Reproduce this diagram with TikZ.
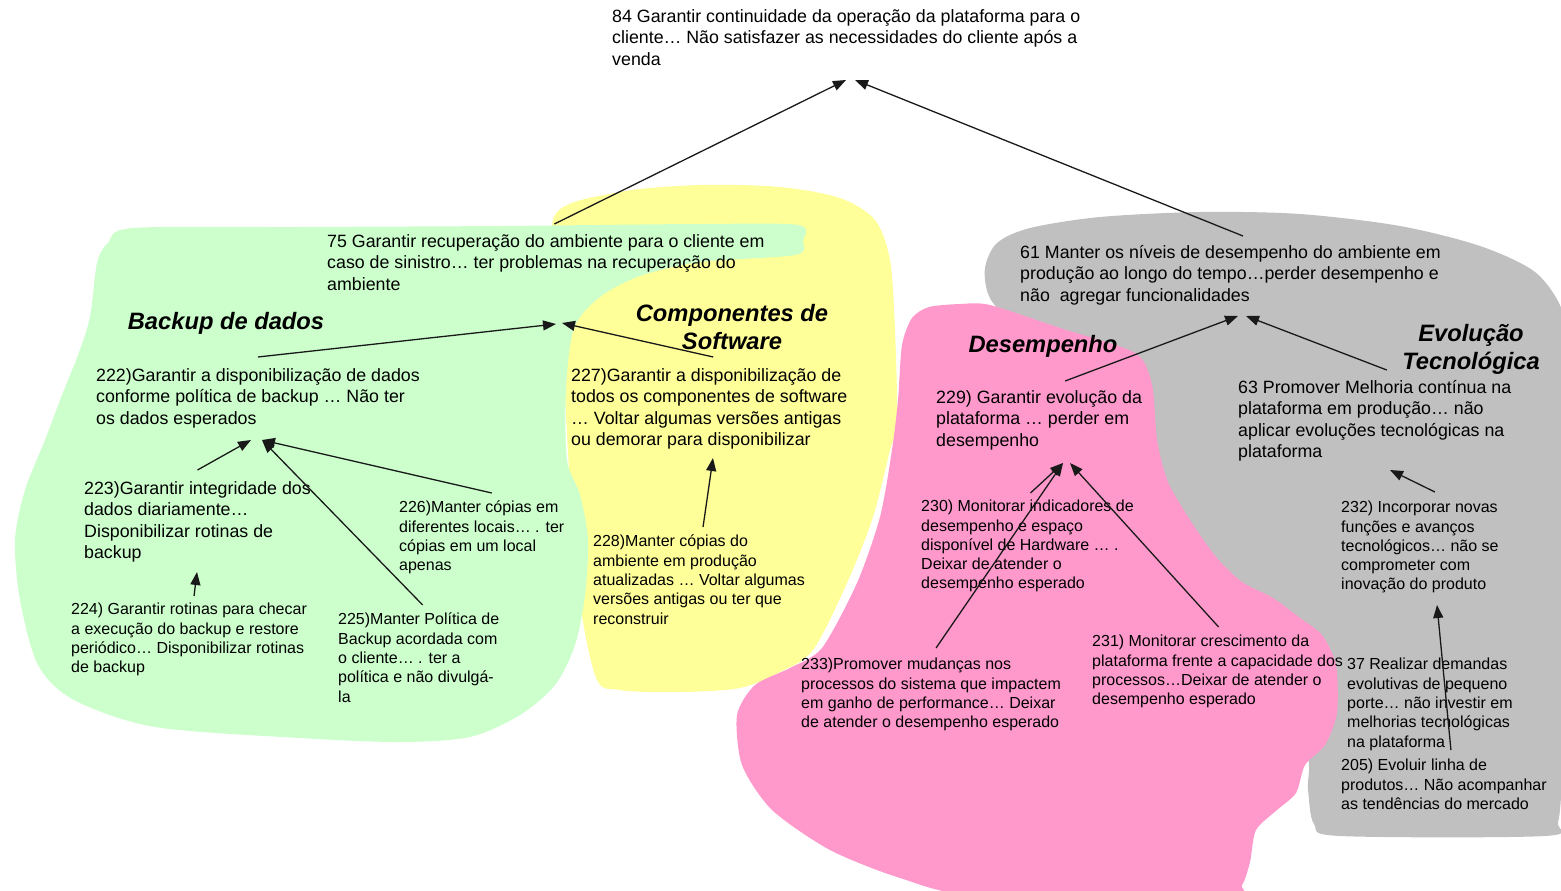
\documentclass[tikz,border=0pt]{standalone}
\usepackage{fontspec}
\setmainfont{Liberation Sans}
\usetikzlibrary{arrows.meta}
\pgfdeclarelayer{bg}
\pgfsetlayers{bg,main}
\definecolor{backupgreen}{RGB}{204,255,204}
\definecolor{softyellow}{RGB}{255,255,153}
\definecolor{perfpink}{RGB}{255,153,204}
\definecolor{evolgray}{RGB}{192,192,192}
\tikzset{
    goal/.style={inner sep=0mm, anchor=north west, align=left, font=\fontsize{17.8}{21.5}\selectfont},
    subgoal/.style={goal, font=\fontsize{16}{19.3}\selectfont},
    area/.style={inner sep=0mm, align=center, font=\fontsize{23.7}{28}\selectfont\bfseries\itshape}
}
\tikzset{dep/.style={line width=1.3pt, draw=black!90, -{Triangle[length=13pt, width=10pt]}}}

\begin{document}
\begin{tikzpicture}[x=1pt, y=-1pt]
        \useasboundingbox (0,0) rectangle (1561,891);
        \begin{pgfonlayer}{bg}
                \fill[softyellow] plot[smooth cycle, tension=0.5] coordinates {(555,215) (620,192) (700,185) (780,187) (840,198) (875,220) (890,260) (895,330) (897,423) (890,450) (873,517) (847,583) (813,650) (780,672) (740,688) (680,692) (620,690) (595,675) (575,560) (560,300)};
                \fill[backupgreen] plot[smooth cycle, tension=0.5] coordinates {(133,228) (300,227) (500,226) (700,224) (798,225) (803,241) (795,255) (700,262) (640,276) (600,297) (574,328) (566,390) (567,460) (580,495) (588,540) (585,595) (575,645) (555,685) (520,715) (470,737) (400,742) (300,738) (155,727) (74,700) (38,665) (20,600) (15,540) (25,490) (45,440) (62,395) (78,355) (90,317) (97,263) (108,243)};
                \fill[evolgray] plot[smooth cycle, tension=0.5] coordinates {(985,268) (997,243) (1030,228) (1100,217) (1200,212) (1300,214) (1400,226) (1480,246) (1535,272) (1562,310) (1568,360) (1568,500) (1566,700) (1562,780) (1558,822) (1545,836) (1340,836) (1314,824) (1308,790) (1303,740) (1230,600) (1120,420) (1010,320) (989,296)};
                \fill[perfpink] plot[smooth cycle, tension=0.45] coordinates {(929,307) (960,304) (990,305) (1060,328) (1135,353) (1152,385) (1157,440) (1168,482) (1190,520) (1216,557) (1242,582) (1273,598) (1300,618) (1322,635) (1336,665) (1337,713) (1325,745) (1305,765) (1296,793) (1277,810) (1256,830) (1250,862) (1242,885) (1225,896) (980,896) (900,878) (830,850) (772,810) (742,765) (737,715) (755,685) (790,668) (822,648) (857,583) (880,517) (892,450) (898,400) (902,345) (912,318)};
        \end{pgfonlayer}
        % area titles
        \node (tbackup) [area] at (226,323) {Backup de dados};
        \node (tsoft) [area] at (732,327) {Componentes de\\Software};
        \node (tperf) [area] at (1043,346) {Desempenho};
        \node (tevol) [area] at (1471,349) {Evolução\\Tecnológica};
        % goals
        \node (n84) [goal] at (612,9) {84 Garantir continuidade da operação da plataforma para o\\cliente… Não satisfazer as necessidades do cliente após a\\venda};
        \node (n75) [goal] at (327,234) {75 Garantir recuperação do ambiente para o cliente em\\caso de sinistro… ter problemas na recuperação do\\ambiente};
        \node (n61) [goal] at (1020,245) {61 Manter os níveis de desempenho do ambiente em\\produção ao longo do tempo…perder desempenho e\\não\ \ agregar funcionalidades};
        \node (n222) [goal] at (96,368) {222)Garantir a disponibilização de dados\\conforme política de backup … Não ter\\os dados esperados};
        \node (n227) [goal] at (571,368) {227)Garantir a disponibilização de\\todos os componentes de software\\… Voltar algumas versões antigas\\ou demorar para disponibilizar};
        \node (n229) [goal] at (936,390) {229) Garantir evolução da\\plataforma … perder em\\desempenho};
        \node (n63) [goal] at (1238,380) {63 Promover Melhoria contínua na\\plataforma em produção… não\\aplicar evoluções tecnológicas na\\plataforma};
        \node (n223) [goal] at (84,481) {223)Garantir integridade dos\\dados diariamente…\\Disponibilizar rotinas de\\backup};
        \node (n226) [subgoal] at (399,501) {226)Manter cópias em\\diferentes locais… . ter\\cópias em um local\\apenas};
        \node (n224) [subgoal] at (71,603) {224) Garantir rotinas para checar\\a execução do backup e restore\\periódico… Disponibilizar rotinas\\de backup};
        \node (n225) [subgoal] at (338,613) {225)Manter Política de\\Backup acordada com\\o cliente… . ter a\\política e não divulgá-\\la};
        \node (n228) [subgoal] at (593,535) {228)Manter cópias do\\ambiente em produção\\atualizadas … Voltar algumas\\versões antigas ou ter que\\reconstruir};
        \node (n230) [subgoal] at (921,500) {230) Monitorar indicadores de\\desempenho e espaço\\disponível de Hardware … .\\Deixar de atender o\\desempenho esperado};
        \node (n233) [subgoal] at (801,658) {233)Promover mudanças nos\\processos do sistema que impactem\\em ganho de performance… Deixar\\de atender o desempenho esperado};
        \node (n231) [subgoal] at (1092,635) {231) Monitorar crescimento da\\plataforma frente a capacidade dos\\processos…Deixar de atender o\\desempenho esperado};
        \node (n232) [subgoal] at (1341,501) {232) Incorporar novas\\funções e avanços\\tecnológicos… não se\\comprometer com\\inovação do produto};
        \node (n37) [subgoal] at (1347,658) {37 Realizar demandas\\evolutivas de pequeno\\porte… não investir em\\melhorias tecnológicas\\na plataforma};
        \node (n205) [subgoal] at (1341,759) {205) Evoluir linha de\\produtos… Não acompanhar\\as tendências do mercado};
        % arrow heads
        \coordinate (h84a) at (846,80);
        \coordinate (h84b) at (855,80);
        \coordinate (h75a) at (556,324);
        \coordinate (h75b) at (562,323);
        \coordinate (h61a) at (1238,316);
        \coordinate (h61b) at (1246,316);
        \coordinate (h222a) at (251,440);
        \coordinate (h222b) at (262,440);
        \coordinate (h223) at (197,572);
        \coordinate (h227) at (713,458);
        \coordinate (h229a) at (1063,463);
        \coordinate (h229b) at (1070,463);
        \coordinate (h63) at (1390,470);
        \coordinate (h232) at (1437,605);
        \draw ([shift={(8.5,-10)}]n75.north) edge [dep] (h84a);
        \draw ([shift={(12.5,-9)}]n61.north) edge [dep] (h84b);
        \draw ([shift={(0,-11)}]n222.north) edge [dep] (h75a);
        \draw ([shift={(4,-11)}]n227.north) edge [dep] (h75b);
        \draw ([shift={(0,-11)}]n223.north) edge [dep] (h222a);
        \draw ([shift={(4,-8)}]n225.north) edge [dep] (h222b);
        \draw ([shift={(10,-8)}]n226.north) edge [dep] (h222b);
        \draw ([shift={(5,-7)}]n224.north) edge [dep] (h223);
        \draw ([shift={(4,-8)}]n228.north) edge [dep] (h227);
        \draw ([shift={(26,-9)}]n229.north) edge [dep] (h61a);
        \draw ([shift={(12,-10)}]n63.north) edge [dep] (h61b);
        \draw ([shift={(5,-10)}]n233.north) edge [dep] (h229a);
        \draw ([shift={(3,-7)}]n230.north) edge [dep] (h229a);
        \draw ([shift={(1,-8)}]n231.north) edge [dep] (h229b);
        \draw ([shift={(15,-9)}]n232.north) edge [dep] (h63);
        \draw ([shift={(7,-9)}]n205.north) edge [dep] (h232);
\end{tikzpicture}
\end{document}
